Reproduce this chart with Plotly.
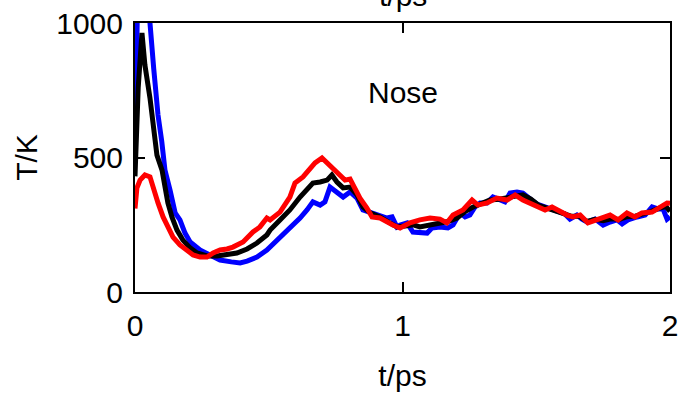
import plotly.graph_objects as go

# ---- data ----
t_blue = [0.0, 0.008, 0.02, 0.035, 0.05, 0.056, 0.07, 0.086, 0.10, 0.112, 0.131, 0.150, 0.168,
          0.187, 0.206, 0.243, 0.280, 0.318, 0.360, 0.393, 0.419, 0.456, 0.493, 0.542, 0.579,
          0.617, 0.643, 0.665, 0.692, 0.710, 0.729, 0.755, 0.778, 0.804, 0.830, 0.852, 0.890,
          0.916, 0.942, 0.961, 0.979, 0.991, 1.017, 1.039, 1.065, 1.092, 1.110, 1.140, 1.170,
          1.189, 1.215, 1.234, 1.252, 1.271, 1.290, 1.316, 1.338, 1.364, 1.383, 1.402, 1.428,
          1.450, 1.465, 1.477, 1.503, 1.533, 1.559, 1.581, 1.607, 1.626, 1.652, 1.671, 1.690,
          1.720, 1.750, 1.776, 1.802, 1.821, 1.843, 1.877, 1.907, 1.933, 1.955, 1.974, 1.989, 2.0]
T_blue = [520, 1400, 1700, 1500, 1150, 1000, 830, 658, 560, 453, 379, 294, 268,
          219, 186, 156, 138, 119, 112, 108, 115, 130, 156, 201, 238,
          275, 305, 335, 323, 335, 390, 372, 353, 372, 349, 305, 294,
          286, 275, 279, 242, 249, 257, 223, 223, 219, 238, 242, 238,
          249, 294, 279, 286, 316, 331, 331, 353, 342, 335, 368, 372,
          368, 353, 346, 327, 316, 305, 297, 290, 271, 286, 271, 260,
          271, 249, 260, 268, 253, 268, 279, 286, 316, 309, 309, 271, 280]

t_black = [0.0, 0.012, 0.026, 0.037, 0.056, 0.067, 0.082, 0.101, 0.112, 0.123, 0.138, 0.157,
           0.179, 0.206, 0.232, 0.269, 0.307, 0.344, 0.381, 0.419, 0.456, 0.493, 0.505, 0.542,
           0.579, 0.617, 0.643, 0.665, 0.692, 0.718, 0.736, 0.755, 0.778, 0.804, 0.830, 0.852,
           0.879, 0.916, 0.953, 0.979, 1.010, 1.040, 1.065, 1.103, 1.140, 1.170, 1.204, 1.235,
           1.264, 1.295, 1.327, 1.360, 1.391, 1.420, 1.450, 1.480, 1.510, 1.540, 1.570, 1.600,
           1.630, 1.660, 1.690, 1.720, 1.750, 1.780, 1.810, 1.840, 1.870, 1.900, 1.930, 1.960,
           1.985, 2.0]
T_black = [430, 760, 963, 844, 721, 621, 509, 453, 390, 331, 279, 230,
           193, 164, 145, 134, 134, 138, 145, 160, 182, 212, 230, 268,
           305, 353, 379, 405, 409, 416, 435, 409, 387, 390, 361, 316,
           294, 279, 257, 242, 245, 250, 242, 249, 257, 262, 275, 300,
           316, 330, 342, 345, 349, 355, 361, 345, 322, 312, 300, 292,
           282, 282, 262, 270, 265, 272, 270, 280, 282, 290, 300, 312,
           318, 300]

t_red = [0.0, 0.007, 0.019, 0.037, 0.056, 0.067, 0.086, 0.105, 0.123, 0.142, 0.168, 0.194,
         0.217, 0.243, 0.269, 0.292, 0.318, 0.344, 0.366, 0.404, 0.441, 0.467, 0.493, 0.505,
         0.542, 0.579, 0.598, 0.628, 0.654, 0.673, 0.699, 0.718, 0.740, 0.766, 0.785, 0.804,
         0.822, 0.841, 0.867, 0.886, 0.916, 0.942, 0.964, 0.991, 1.028, 1.065, 1.103, 1.140,
         1.166, 1.189, 1.226, 1.260, 1.282, 1.316, 1.353, 1.391, 1.421, 1.450, 1.477, 1.514,
         1.533, 1.559, 1.589, 1.615, 1.637, 1.664, 1.693, 1.720, 1.750, 1.776, 1.806, 1.839,
         1.869, 1.895, 1.933, 1.963, 1.989, 2.0]
T_red = [310, 386, 416, 435, 428, 390, 331, 279, 238, 204, 175, 156,
         138, 130, 130, 145, 156, 160, 167, 186, 223, 242, 275, 268,
         297, 353, 405, 428, 461, 480, 498, 480, 461, 435, 416, 420,
         387, 349, 312, 279, 275, 260, 249, 238, 257, 268, 275, 271,
         257, 286, 305, 342, 323, 331, 349, 342, 361, 342, 331, 316,
         305, 316, 297, 286, 279, 286, 257, 268, 279, 286, 268, 294,
         279, 294, 297, 316, 331, 330]

x_ticks = [0, 1, 2]
y_ticks = [0, 500, 1000]
label_text = "Nose"

FONT = "Liberation Sans, Arial, sans-serif"

fig = go.Figure()
for t, T, c in [(t_blue, T_blue, "#0000ff"), (t_black, T_black, "#000000"), (t_red, T_red, "#ff0000")]:
    fig.add_trace(go.Scatter(x=t, y=T, mode="lines", line=dict(color=c, width=5),
                             showlegend=False, hoverinfo="skip"))

axis_common = dict(showline=True, linecolor="black", linewidth=2, mirror="ticks",
                   ticks="inside", ticklen=10, tickwidth=2, tickcolor="black",
                   showgrid=False, zeroline=False, automargin=False,
                   tickfont=dict(family=FONT, size=30, color="black"))

fig.update_xaxes(range=[0, 2], tickvals=x_ticks, ticktext=[str(v) for v in x_ticks],
                 title=dict(text="t/ps", font=dict(family=FONT, size=30, color="black"), standoff=24),
                 ticklabelstandoff=6, **axis_common)
fig.update_yaxes(range=[0, 1000], tickvals=y_ticks, ticktext=[str(v) for v in y_ticks],
                 title=dict(text="T/K", font=dict(family=FONT, size=30, color="black"), standoff=10),
                 ticklabelstandoff=4, **axis_common)

fig.add_annotation(x=0.5, y=0.74, xref="paper", yref="paper", text=label_text,
                   yanchor="middle", xanchor="center",
                   showarrow=False, font=dict(family=FONT, size=30, color="black"))
fig.add_annotation(x=0.5, y=1.035, xref="paper", yref="paper", text="t/ps", yanchor="bottom",
                   showarrow=False, font=dict(family=FONT, size=30, color="black"))

fig.update_layout(width=682, height=398, margin=dict(l=135, r=12, t=23, b=106),
                  plot_bgcolor="white", paper_bgcolor="white",
                  font=dict(family=FONT, size=30, color="black"))

fig.write_html("out.html", config={"displayModeBar": False},
               post_script="document.body.style.margin='0';document.body.style.overflow='hidden';")
